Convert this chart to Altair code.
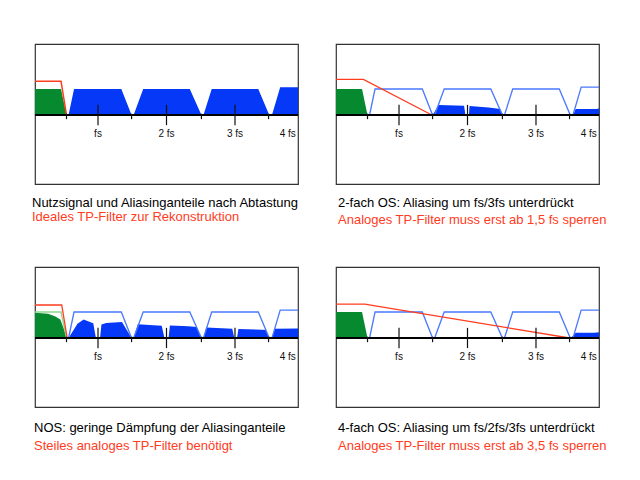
import altair as alt
import pandas as pd

# ---------------- data (frequency in units of fs, level relative to passband) -------------
X_DOMAIN = [0.08, 3.92]
Y_DOMAIN = [-2.654, 2.731]

# wanted baseband signal
green_x = [0.08, 0.46, 0.54]
green_y = [1.0, 1.0, 0.0]
# NOS (sinc-weighted) baseband
green_nos_x = [0.08, 0.27, 0.37, 0.45, 0.55]
green_nos_y = [0.97, 0.93, 0.84, 0.71, 0.0]

# alias images (unattenuated)
alias_x = [0.54, 0.57, 0.65, 1.34, 1.49, 1.52, 1.66, 2.34, 2.51, 2.54, 2.66, 3.34, 3.50, 3.54, 3.66, 3.92]
alias_y = [0.0, 0.0, 1.0, 1.0, 0.0, 0.0, 1.0, 1.0, 0.0, 0.0, 1.0, 1.0, 0.0, 0.0, 1.07, 1.07]

# reconstruction filters
red1_x, red1_y = [0.08, 0.46, 0.54], [1.3, 1.3, 0.0]
red2_x, red2_y = [0.08, 0.48, 1.48], [1.37, 1.37, 0.0]
red3_x, red3_y = [0.08, 0.47, 0.55], [1.27, 1.27, 0.0]
red4_x, red4_y = [0.08, 0.50, 3.49], [1.3, 1.3, 0.0]

# remaining alias components, 2x OS
res2_seg = ["a"] * 4 + ["b"] * 5 + ["c"] * 4
res2_x = [1.49, 1.58, 1.95, 1.97, 2.02, 2.03, 2.31, 2.48, 2.51, 3.54, 3.58, 3.88, 3.92]
res2_y = [0.0, 0.38, 0.36, 0.0, 0.0, 0.35, 0.29, 0.23, 0.0, 0.0, 0.23, 0.23, 0.25]

# remaining alias components, NOS
res3_seg = (["a"] * 5 + ["b"] * 5 + ["c"] * 4 + ["d"] * 5 + ["e"] * 4 + ["f"] * 5 + ["g"] * 3)
res3_x = [0.57, 0.70, 0.79, 0.93, 0.97,
          1.03, 1.05, 1.12, 1.35, 1.49,
          1.52, 1.58, 1.93, 1.97,
          2.03, 2.05, 2.32, 2.44, 2.51,
          2.54, 2.58, 2.96, 2.99,
          3.03, 3.05, 3.40, 3.45, 3.50,
          3.54, 3.58, 3.92]
res3_y = [0.0, 0.55, 0.71, 0.57, 0.0,
          0.0, 0.52, 0.58, 0.62, 0.0,
          0.0, 0.53, 0.47, 0.0,
          0.0, 0.48, 0.45, 0.42, 0.0,
          0.0, 0.40, 0.36, 0.0,
          0.0, 0.35, 0.32, 0.31, 0.0,
          0.0, 0.36, 0.37]

# remaining alias components, 4x OS
res4_seg = ["a"] * 4
res4_x = [3.51, 3.58, 3.85, 3.92]
res4_y = [0.0, 0.20, 0.20, 0.22]

main_ticks = [1, 2, 3]
half_ticks = [0.54, 1.49, 2.51, 3.49]
label_x = [1.0, 2.0, 3.0, 3.77]
label_text = ["fs", "2 fs", "3 fs", "4 fs"]

captions = [
    ("Nutzsignal und Aliasinganteile nach Abtastung", "Ideales TP-Filter zur Rekonstruktion"),
    ("2-fach OS: Aliasing um fs/3fs unterdrückt", "Analoges TP-Filter muss erst ab 1,5 fs sperren"),
    ("NOS: geringe Dämpfung der Aliasinganteile", "Steiles analoges TP-Filter benötigt"),
    ("4-fach OS: Aliasing um fs/2fs/3fs unterdrückt", "Analoges TP-Filter muss erst ab 3,5 fs sperren"),
]

# ---------------- styling -------------
GREEN = "#07892f"
GREEN_LIGHT = "#8fd68f"
BLUE_FILL = "#0539f7"
BLUE_LINE = "#4a78ff"
RED = "#ff3c1e"
FONT = "Liberation Sans"
W, H = 263, 140

xs = alt.Scale(domain=X_DOMAIN, nice=False, zero=False)
ys = alt.Scale(domain=Y_DOMAIN, nice=False, zero=False)


def frame(xv, yv, seg=None):
    d = pd.DataFrame({"x": xv, "y": yv})
    d["seg"] = seg if seg is not None else "a"
    return d


def area(xv, yv, color, seg=None):
    d = frame(xv, yv, seg)
    return alt.Chart(d).mark_area(color=color, clip=True, interpolate="linear").encode(
        x=alt.X("x:Q", scale=xs, axis=None),
        y=alt.Y("y:Q", scale=ys, axis=None, stack=None),
        detail="seg:N")


def line(xv, yv, color, width=1.3):
    d = frame(xv, yv)
    return alt.Chart(d).mark_line(color=color, strokeWidth=width, clip=True).encode(
        x=alt.X("x:Q", scale=xs, axis=None),
        y=alt.Y("y:Q", scale=ys, axis=None))


def axis_layers():
    base = alt.Chart(pd.DataFrame({"x": [X_DOMAIN[0]], "x2": [X_DOMAIN[1]], "y": [0.0]})).mark_rule(
        color="black", strokeWidth=2).encode(
        x=alt.X("x:Q", scale=xs, axis=None), x2="x2:Q", y=alt.Y("y:Q", scale=ys, axis=None))
    mt = alt.Chart(pd.DataFrame({"x": main_ticks, "y": [0.39] * 3, "y2": [-0.39] * 3})).mark_rule(
        color="#111", strokeWidth=1.2).encode(
        x=alt.X("x:Q", scale=xs, axis=None), y=alt.Y("y:Q", scale=ys, axis=None), y2="y2:Q")
    ht = alt.Chart(pd.DataFrame({"x": half_ticks, "y": [0.05] * 4, "y2": [-0.16] * 4})).mark_rule(
        color="#111", strokeWidth=1.2).encode(
        x=alt.X("x:Q", scale=xs, axis=None), y=alt.Y("y:Q", scale=ys, axis=None), y2="y2:Q")
    lab = alt.Chart(pd.DataFrame({"x": label_x, "y": [-0.73] * 4, "t": label_text})).mark_text(
        font=FONT, fontSize=10, color="#111", baseline="middle", align="center").encode(
        x=alt.X("x:Q", scale=xs, axis=None), y=alt.Y("y:Q", scale=ys, axis=None), text="t:N")
    return [base, mt, ht, lab]


def title(i, dx, offset, pad):
    t, s = captions[i]
    return alt.TitleParams(text=t, subtitle=s, orient="bottom", anchor="start",
                           font=FONT, fontSize=13, fontWeight="normal", color="black",
                           subtitleFont=FONT, subtitleFontSize=13, subtitleColor=RED,
                           subtitlePadding=pad, offset=offset, dx=dx)


p1 = alt.layer(
    area(green_x, green_y, GREEN),
    area(alias_x, alias_y, BLUE_FILL),
    line(red1_x, red1_y, RED, 1.5),
    *axis_layers()
).properties(width=W, height=H, title=title(0, -2, 13, 1))

p2 = alt.layer(
    area(green_x, green_y, GREEN),
    area(res2_x, res2_y, BLUE_FILL, res2_seg),
    line(alias_x, alias_y, BLUE_LINE),
    line(red2_x, red2_y, RED),
    *axis_layers()
).properties(width=W, height=H, title=title(1, 3, 13, 4))

p3 = alt.layer(
    area(green_nos_x, green_nos_y, GREEN),
    line(green_x, green_y, GREEN_LIGHT),
    area(res3_x, res3_y, BLUE_FILL, res3_seg),
    line(alias_x, alias_y, BLUE_LINE),
    line(red3_x, red3_y, RED),
    *axis_layers()
).properties(width=W, height=H, title=title(2, 0, 15, 5))

p4 = alt.layer(
    area(green_x, green_y, GREEN),
    area(res4_x, res4_y, BLUE_FILL, res4_seg),
    line(alias_x, alias_y, BLUE_LINE),
    line(red4_x, red4_y, RED),
    *axis_layers()
).properties(width=W, height=H, title=title(3, 3, 15, 5))

chart = alt.concat(p1, p2, p3, p4, columns=2, spacing={"row": 83, "column": 38}, bounds="flush").properties(
    padding={"left": 23, "top": 35, "right": 5, "bottom": 5},
    background="white",
).configure_view(stroke="#333333", strokeWidth=1.2)

chart.save("out.html", embed_options={"renderer": "svg", "actions": False})
